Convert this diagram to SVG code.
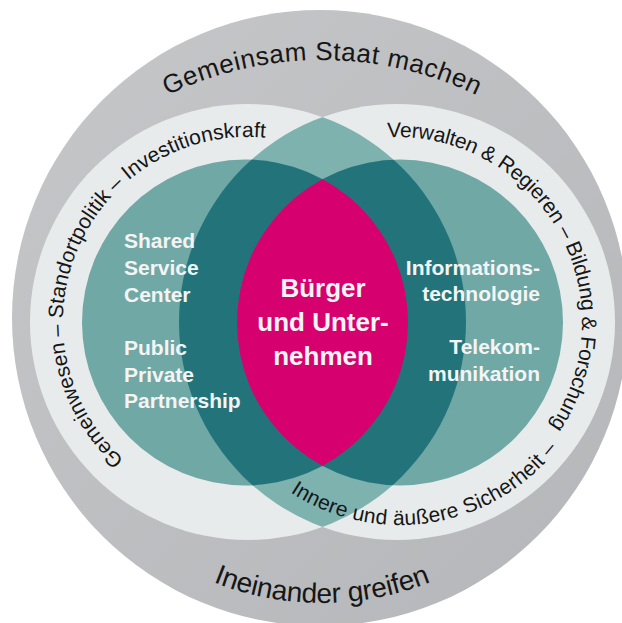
<svg xmlns="http://www.w3.org/2000/svg" width="622" height="623" viewBox="0 0 622 623">
<style>
.ring{font-family:"Liberation Sans",Arial,sans-serif;fill:#161616;font-size:21px}
.ls{letter-spacing:0.06px}
.rs{letter-spacing:-0.3px}
.bs{letter-spacing:0.25px}
.big{font-size:26px}
.w{font-family:"Liberation Sans",Arial,sans-serif;font-weight:bold;fill:#f4f4f4;font-size:21px}
.c{font-size:26px;text-anchor:middle}
.r{text-anchor:end}
.light{fill:#e8ebeb}
.mid{fill:#70a8a5}
.lens{fill:#7db2af}
.dark{fill:#23747a}
.mag{fill:#d6006f}
</style>
<defs>
<linearGradient id="gGray" x1="0" y1="0" x2="1" y2="1">
<stop offset="0" stop-color="#c6c7c9"/>
<stop offset="1" stop-color="#b5b6b9"/>
</linearGradient>
<clipPath id="cL1"><circle cx="248" cy="322" r="218"/></clipPath>
<clipPath id="cL2"><circle cx="397" cy="322" r="218"/></clipPath>
<clipPath id="cT1"><circle cx="245" cy="322.5" r="163"/></clipPath>
<path id="pLeft" d="M 124.21 459.48 A 185 185 0 0 1 286.5 141"/>
<path id="pRight" d="M 387.3 137.3 A 185 185 0 0 1 538.7 440.9"/>
<path id="pBottom" d="M 290.2 492.2 A 200 200 0 0 0 565.8 436.8"/>
<path id="pTop" d="M -34 416 A 356 356 0 0 1 678 416"/>
<path id="pLow" d="M 29 310 A 293 293 0 0 0 615 310"/>
</defs>
<g id="outer-ring">
<circle cx="320" cy="318" r="308" fill="url(#gGray)"/>
</g>
<g id="left-circle">
<circle class="light" cx="248" cy="322" r="218"/>
</g>
<g id="right-circle">
<circle class="light" cx="397" cy="322" r="218"/>
</g>
<g id="overlap-outer">
<circle class="lens" cx="397" cy="322" r="218" clip-path="url(#cL1)"/>
</g>
<g id="left-inner">
<circle class="mid" cx="245" cy="322.5" r="163"/>
</g>
<g id="right-inner">
<circle class="mid" cx="400" cy="322.5" r="163"/>
</g>
<g id="overlap-mid">
<circle class="dark" cx="245" cy="322.5" r="163" clip-path="url(#cL2)"/>
<circle class="dark" cx="400" cy="322.5" r="163" clip-path="url(#cL1)"/>
</g>
<g id="center">
<circle class="mag" cx="400" cy="322.5" r="163" clip-path="url(#cT1)"/>
<text class="w c"><tspan x="323" y="297">Bürger</tspan><tspan x="323" y="331">und Unter-</tspan><tspan x="323" y="365">nehmen</tspan></text>
</g>
<g id="left-labels">
<text class="w"><tspan x="124" y="248">Shared</tspan><tspan x="124" y="275">Service</tspan><tspan x="124" y="302">Center</tspan></text>
<text class="w"><tspan x="124" y="355">Public</tspan><tspan x="124" y="382">Private</tspan><tspan x="124" y="408">Partnership</tspan></text>
</g>
<g id="right-labels">
<text class="w r"><tspan x="540" y="275">Informations-</tspan><tspan x="540" y="301">technologie</tspan></text>
<text class="w r"><tspan x="540" y="354">Telekom-</tspan><tspan x="540" y="381">munikation</tspan></text>
</g>
<g id="ring-left">
<text class="ring ls"><textPath href="#pLeft" startOffset="0">Gemeinwesen</textPath></text>
<text class="ring ls"><textPath href="#pLeft" startOffset="134.87">&#160;– Standortpolitik</textPath></text>
<text class="ring ls"><textPath href="#pLeft" startOffset="292.36">&#160;– Investitionskraft</textPath></text>
</g>
<g id="ring-right">
<text class="ring rs"><textPath href="#pRight" startOffset="0">Verwalten &amp; Regieren</textPath></text>
<text class="ring rs"><textPath href="#pRight" startOffset="198.25">&#160;– Bildung &amp; Forschung</textPath></text>
<text class="ring bs"><textPath href="#pBottom">Innere und äußere Sicherheit –</textPath></text>
</g>
<g id="ring-outer">
<text class="ring big" text-anchor="middle"><textPath href="#pTop" startOffset="50%" textLength="320" lengthAdjust="spacing">Gemeinsam Staat machen</textPath></text>
<text class="ring big" text-anchor="middle" style="font-size:28px"><textPath href="#pLow" startOffset="50%" textLength="223" lengthAdjust="spacing">Ineinander greifen</textPath></text>
</g>
</svg>
